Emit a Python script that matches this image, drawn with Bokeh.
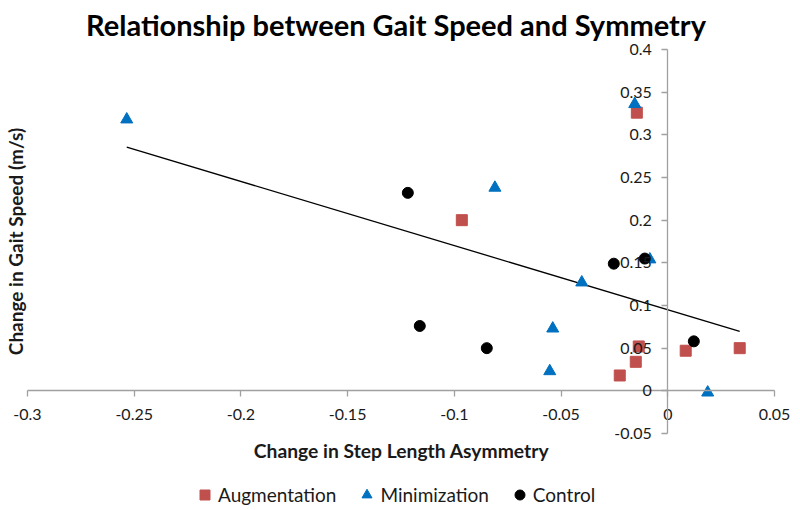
import numpy as np
from bokeh.plotting import figure
from bokeh.models import Range1d, FixedTicker, Label, Legend, LegendItem
from bokeh.embed import file_html
from bokeh.resources import INLINE

# ---- data ----
aug_x = [-0.0145, -0.0965, -0.0225, -0.0150, -0.0136, 0.0084, 0.0337]
aug_y = [0.326, 0.200, 0.018, 0.034, 0.052, 0.047, 0.050]

min_x = [-0.2535, -0.0155, -0.0810, -0.0403, -0.0539, -0.0553, -0.0084, 0.0187]
min_y = [0.318, 0.336, 0.238, 0.127, 0.073, 0.023, 0.154, -0.002]

ctrl_x = [-0.1218, -0.1162, -0.0848, -0.0253, -0.0108, 0.0122]
ctrl_y = [0.232, 0.076, 0.050, 0.149, 0.155, 0.058]

x_ticks = [-0.3, -0.25, -0.2, -0.15, -0.1, -0.05, 0, 0.05]
x_tick_labels = ["-0.3", "-0.25", "-0.2", "-0.15", "-0.1", "-0.05", "0", "0.05"]
y_ticks = [-0.05, 0, 0.05, 0.1, 0.15, 0.2, 0.25, 0.3, 0.35, 0.4]
y_tick_labels = ["-0.05", "0", "0.05", "0.1", "0.15", "0.2", "0.25", "0.3", "0.35", "0.4"]

title_text = "Relationship between Gait Speed and Symmetry"
x_label = "Change in Step Length Asymmetry"
y_label = "Change in Gait Speed (m/s)"
series_names = ["Augmentation", "Minimization", "Control"]

# ---- layout (pixels) ----
W, H = 800, 508
X_MIN, X_MAX = -0.3, 0.05
Y_MIN, Y_MAX = -0.05, 0.4
PX_LEFT, PX_RIGHT = 27, 774      # pixel of X_MIN / X_MAX
PX_TOP, PX_BOTTOM = 49, 433      # pixel of Y_MAX / Y_MIN

sx = (PX_RIGHT - PX_LEFT) / (X_MAX - X_MIN)
sy = (PX_BOTTOM - PX_TOP) / (Y_MAX - Y_MIN)
x_range = Range1d(X_MIN - PX_LEFT / sx, X_MAX + (W - PX_RIGHT) / sx)
y_range = Range1d(Y_MIN - (H - PX_BOTTOM) / sy, Y_MAX + PX_TOP / sy)

FONT = "Lato"
TXT = "#1a1a1a"
AX = "#a0a0a0"

p = figure(width=W, height=H, output_backend="svg", toolbar_location=None,
           x_range=x_range, y_range=y_range, min_border=0, title=None)
p.background_fill_color = "white"
p.border_fill_color = "white"
p.outline_line_color = None
p.xgrid.visible = False
p.ygrid.visible = False

for ax, ticks, labels, bounds, standoff in ((p.xaxis[0], x_ticks, x_tick_labels, (X_MIN, X_MAX), 12),
                                            (p.yaxis[0], y_ticks, y_tick_labels, (Y_MIN, Y_MAX), 10)):
    ax.fixed_location = 0
    ax.bounds = bounds
    ax.ticker = FixedTicker(ticks=ticks)
    ax.major_label_overrides = {float(t): l for t, l in zip(ticks, labels)}
    ax.axis_line_color = AX
    ax.axis_line_width = 1.3
    ax.major_tick_line_color = AX
    ax.major_tick_line_width = 1.3
    ax.major_tick_out = 6
    ax.major_tick_in = 0
    ax.minor_tick_out = 0
    ax.minor_tick_in = 0
    ax.major_label_text_font = FONT
    ax.major_label_text_font_size = "16px"
    ax.major_label_text_color = TXT
    ax.major_label_standoff = standoff

# trend line (least squares over all points)
all_x = np.array(aug_x + min_x + ctrl_x)
all_y = np.array(aug_y + min_y + ctrl_y)
slope, intercept = np.polyfit(all_x, all_y, 1)
tx = np.array([all_x.min(), all_x.max()])
p.line(tx, slope * tx + intercept, line_color="black", line_width=1.3)

r_aug = p.scatter(aug_x, aug_y, marker="square", size=11, fill_color="#C0504D", line_color="#C0504D")
r_min = p.scatter(min_x, min_y, marker="triangle", size=12, fill_color="#0070C0", line_color="#0070C0")
r_ctrl = p.scatter(ctrl_x, ctrl_y, marker="circle", size=11, fill_color="black", line_color="black")

p.add_layout(Label(x=395.5, y=H - 24, x_units="screen", y_units="screen", text=title_text,
                   text_font=FONT, text_font_style="bold", text_font_size="29px",
                   text_color="black", text_align="center", text_baseline="middle"))
p.add_layout(Label(x=401, y=H - 450, x_units="screen", y_units="screen", text=x_label,
                   text_font=FONT, text_font_style="bold", text_font_size="19.3px",
                   text_color=TXT, text_align="center", text_baseline="middle"))
p.add_layout(Label(x=15, y=H - 241, x_units="screen", y_units="screen", text=y_label,
                   angle=np.pi / 2, text_font=FONT, text_font_style="bold", text_font_size="19px",
                   text_color=TXT, text_align="center", text_baseline="middle"))

legend = Legend(items=[LegendItem(label=series_names[0], renderers=[r_aug]),
                       LegendItem(label=series_names[1], renderers=[r_min]),
                       LegendItem(label=series_names[2], renderers=[r_ctrl])],
                orientation="horizontal", location=(192, H - 507),
                glyph_width=25, glyph_height=25, label_standoff=1, spacing=18,
                padding=0, margin=0, border_line_color=None, background_fill_alpha=0,
                label_text_font=FONT, label_text_font_size="19px", label_text_color=TXT)
p.add_layout(legend, "center")

open("out.html", "w").write(file_html(p, INLINE))
